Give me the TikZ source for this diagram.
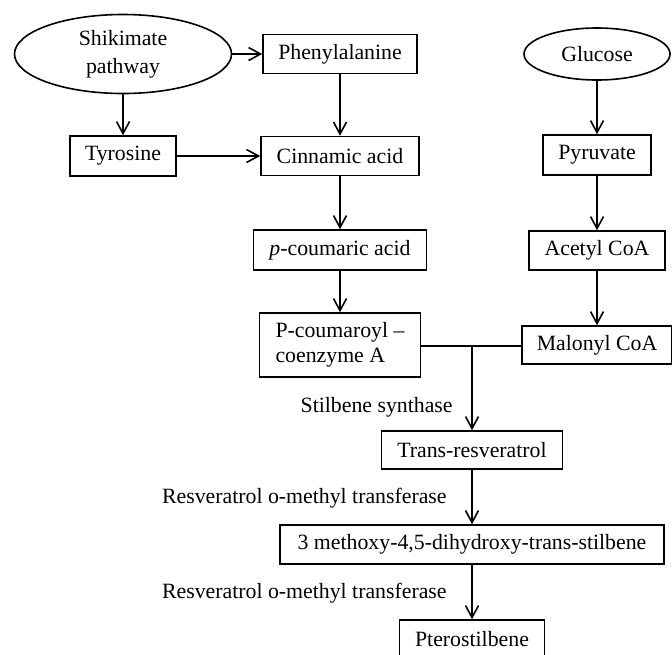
\documentclass[tikz,border=0pt]{standalone}
\usepackage{fontspec}
\setmainfont{Liberation Serif}
\usetikzlibrary{shapes.geometric,arrows.meta}

\tikzset{
  box/.style={draw, line width=0.8pt, inner sep=0pt, minimum height=19.5pt, align=center},
  oval/.style={draw, ellipse, line width=0.8pt, inner sep=0pt, align=center},
  flow/.style={line width=0.8pt, -{Straight Barb[length=6pt,width=6.5pt,line width=0.8pt]}},
  enzyme/.style={anchor=east, inner sep=0pt}
}

\begin{document}
\begin{tikzpicture}[x=0.5pt, y=-0.5pt, font=\fontsize{10.9}{13}\selectfont]
   \useasboundingbox (0, 0) rectangle (672, 654);

   % sources
   \node[oval, minimum width=108.5pt, minimum height=39.5pt, font=\fontsize{10.9}{14}\selectfont] (shik) at (123, 54) {Shikimate\\pathway};
   \node[oval, minimum width=73pt, minimum height=26pt] (glu) at (597, 54) {Glucose};

   % left branch
   \node[box, minimum width=77pt] (phe) at (340, 54) {Phenylalanine};
   \node[box, minimum width=53pt, minimum height=20pt] (tyr) at (123, 156) {Tyrosine};
   \node[box, minimum width=79pt] (cin) at (340, 156) {Cinnamic acid};
   \node[box, minimum width=86.5pt, minimum height=20pt] (pcou) at (340, 250) {\textit{p}-coumaric acid};
   \node[box, minimum width=80.5pt, minimum height=32pt, align=left] (pcoa) at (340, 345) {P-coumaroyl \textendash\\[-0.5pt]coenzyme A};

   % right branch
   \node[box, minimum width=54pt, minimum height=20pt] (pyr) at (597, 155) {Pyruvate};
   \node[box, minimum width=68pt] (acet) at (597, 250.5) {Acetyl CoA};
   \node[box, minimum width=75pt, minimum height=19pt] (mal) at (597, 345) {Malonyl CoA};

   % stilbenes
   \coordinate (j) at (472, 346);
   \node[box, minimum width=90.5pt, minimum height=19pt] (trans) at (472, 450) {Trans-resveratrol};
   \node[box, minimum width=192pt] (meth) at (472, 544.5) {3 methoxy-4,5-dihydroxy-trans-stilbene};
   \node[box, minimum width=72.5pt] (ptero) at (472, 639.5) {Pterostilbene};

   \node[enzyme] (sts) at (453, 407) {Stilbene synthase};
   \node[enzyme] (romt1) at (447, 498) {Resveratrol o-methyl transferase};
   \node[enzyme] (romt2) at (447, 593) {Resveratrol o-methyl transferase};

   \draw[flow] (shik) -- (phe);
   \draw[flow] (shik) -- (tyr);
   \draw[flow] (tyr) -- (cin);
   \draw[flow] (phe) -- (cin);
   \draw[flow] (cin) -- (pcou);
   \draw[flow] (pcou) -- (pcoa);
   \draw[flow] (glu) -- (pyr);
   \draw[flow] (pyr) -- (acet);
   \draw[flow] (acet) -- (mal);
   \draw[line width=0.8pt] (pcoa.east |- j) -- (mal.west |- j);
   \draw[flow] (j) -- (j |- trans.north);
   \draw[flow] (trans) -- (meth);
   \draw[flow] (meth) -- (ptero);
\end{tikzpicture}
\end{document}
